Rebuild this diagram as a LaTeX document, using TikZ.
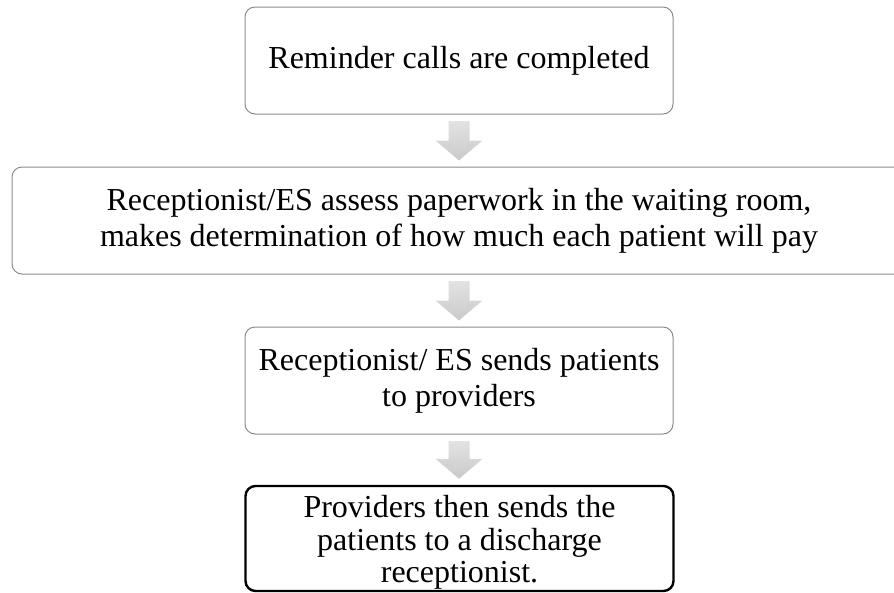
\documentclass[tikz,border=0pt]{standalone}
\usepackage{fontspec}
\setmainfont{Liberation Serif}
\usetikzlibrary{calc}
\definecolor{boxline}{HTML}{8C8C8C}
\tikzset{
  stepbox/.style={draw=boxline, line width=1pt, rounded corners=10pt, fill=white,
    minimum width=428pt, minimum height=107pt, align=center, inner sep=0pt,
    font=\fontsize{32}{36}\selectfont},
  finalbox/.style={stepbox, draw=black, line width=2.4pt},
  arrowfill/.style={top color=gray!22, bottom color=gray!42, draw=none}
}
\newcommand\flowarrow[2]{%
  \shade[arrowfill] let \p1=(#1.south), \p2=(#2.north) in
    (\x1-10.5pt,\y1-6.5pt) -- (\x1+10.5pt,\y1-6.5pt) -- (\x1+10.5pt,\y2+26pt)
    -- (\x1+23.5pt,\y2+26pt) -- (\x1,\y2+6pt) -- (\x1-23.5pt,\y2+26pt)
    -- (\x1-10.5pt,\y2+26pt) -- cycle;}
\begin{document}
\begin{tikzpicture}[x=1pt,y=-1pt]
\useasboundingbox (0,0) rectangle (894,592);
\clip (0,0) rectangle (894,592);
\node[stepbox] (b1) at (459,60.5) {Reminder calls are completed};
\node[stepbox, minimum width=894pt] (b2) at (459,220.5) {Receptionist/ES assess paperwork in the waiting room,\\makes determination of how much each patient will pay};
\node[stepbox] (b3) at (459,380.5) {Receptionist/ ES sends patients\\to providers};
\node[finalbox, minimum height=105pt,
  label={[align=center, inner sep=0pt, yshift=-4pt, font=\fontsize{32}{32.5}\selectfont]center:Providers then sends the\\patients to a discharge\\receptionist.}]
  (b4) at (459.5,538.5) {};
\flowarrow{b1}{b2}
\flowarrow{b2}{b3}
\flowarrow{b3}{b4}
\end{tikzpicture}
\end{document}
